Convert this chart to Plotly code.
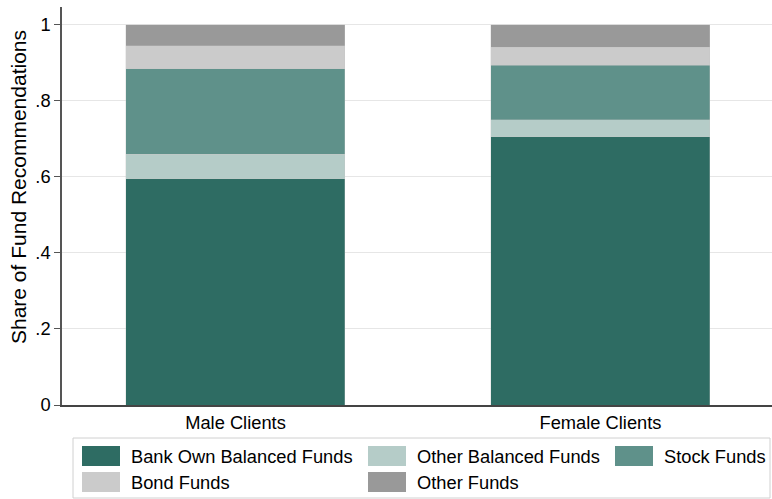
import plotly.graph_objects as go

categories = ["Male Clients", "Female Clients"]
series_names = ["Bank Own Balanced Funds", "Other Balanced Funds", "Stock Funds", "Bond Funds", "Other Funds"]
bank_own = [0.595, 0.706]
other_balanced = [0.065, 0.045]
stock = [0.225, 0.143]
bond = [0.060, 0.047]
other = [0.055, 0.059]
colors = ["#2E6C63", "#B5CCC8", "#5F918A", "#CBCBCB", "#999999"]
y_tickvals = [0, 0.2, 0.4, 0.6, 0.8, 1]
y_ticktext = ["0", ".2", ".4", ".6", ".8", "1"]

series = [bank_own, other_balanced, stock, bond, other]
FONT = "Liberation Sans, Arial, sans-serif"

fig = go.Figure()
for name, vals, col in zip(series_names, series, colors):
    fig.add_trace(go.Bar(x=categories, y=vals, name=name, width=0.6,
                         marker=dict(color=col, line=dict(color="rgba(200,200,200,0.5)", width=0.6)),
                         showlegend=False))

W, H = 772, 499
L, R, T, B = 62, 0, 7, 94
pw, ph = W - L - R, H - T - B

def px(x):
    return (x - L) / pw

def py(y):
    return (H - B - y) / ph

shapes = []
annotations = []
# legend box
shapes.append(dict(type="rect", xref="paper", yref="paper", x0=px(73), x1=px(770), y0=py(498), y1=py(438),
                   line=dict(color="#D0D0D0", width=1), fillcolor="white", layer="above"))
legend_pos = [(82, 129, 446), (368, 415, 446), (615, 662, 446), (82, 129, 472), (368, 415, 472)]
for (sx, tx, sy), name, col in zip(legend_pos, series_names, colors):
    shapes.append(dict(type="rect", xref="paper", yref="paper", x0=px(sx), x1=px(sx + 38),
                       y0=py(sy + 20), y1=py(sy), line=dict(width=0), fillcolor=col, layer="above"))
    annotations.append(dict(xref="paper", yref="paper", x=px(tx), y=py(sy + 10), text=name, showarrow=False,
                            xanchor="left", yanchor="middle", font=dict(family=FONT, size=18.3, color="black")))

annotations.append(dict(xref="paper", yref="paper", x=px(19), y=py(187), text="Share of Fund Recommendations",
                        textangle=-90, showarrow=False, xanchor="center", yanchor="middle",
                        font=dict(family=FONT, size=21, color="black")))

fig.update_layout(
    barmode="stack",
    width=W, height=H,
    margin=dict(l=L, r=R, t=T, b=B, pad=0),
    plot_bgcolor="white", paper_bgcolor="white",
    font=dict(family=FONT, size=18.3, color="black"),
    shapes=shapes, annotations=annotations,
    xaxis=dict(range=[-0.4753, 1.4699], showgrid=False, showline=True, linecolor="#444444", linewidth=1.5,
               ticks="", tickfont=dict(size=18.3), fixedrange=True),
    yaxis=dict(range=[0, 1.047], tickvals=y_tickvals, ticktext=y_ticktext, showgrid=True,
               gridcolor="#E6E6E6", gridwidth=1, showline=True, linecolor="#555555", linewidth=1.5,
               ticks="outside", ticklen=6, tickcolor="#555555", tickfont=dict(size=18.3), zeroline=False),
    bargap=0.4,
)

fig.write_html("out.html", config={"displayModeBar": False},
               post_script="document.body.style.margin='0';document.body.style.padding='0';")
